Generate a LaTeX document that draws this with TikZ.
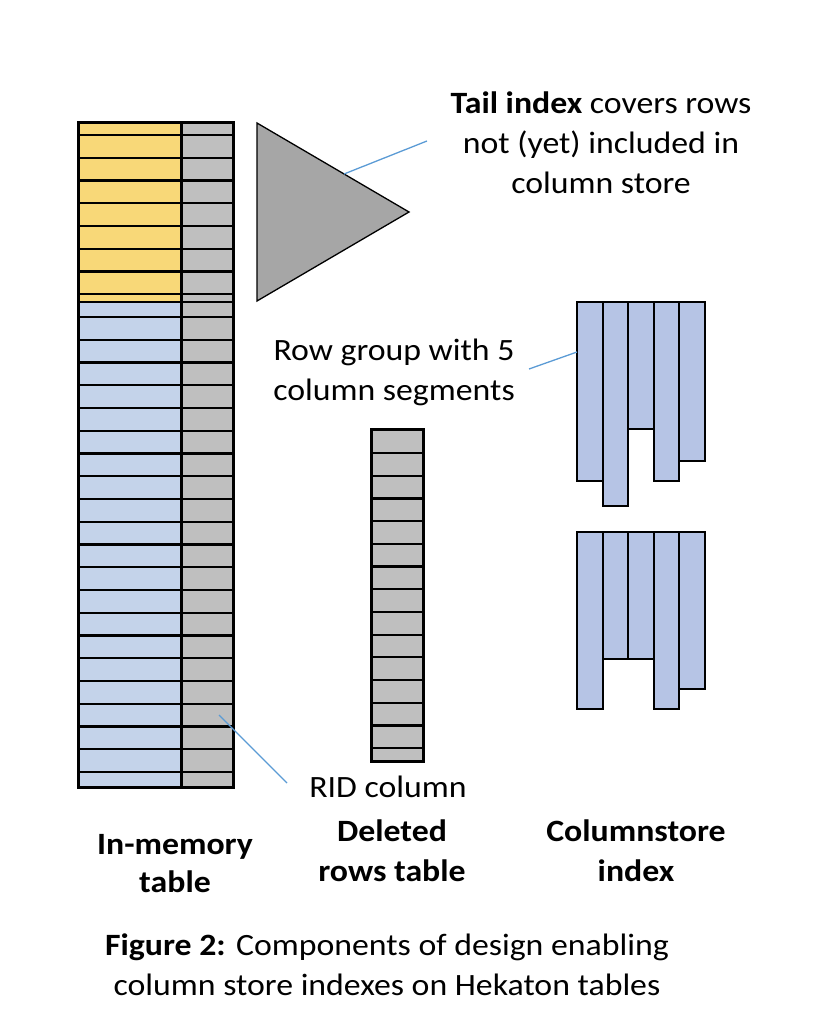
\documentclass[tikz,border=0pt]{standalone}
\usepackage{fontspec}
\setmainfont{Carlito}[FakeStretch=1.09]
\definecolor{yel}{HTML}{F8D878}
\definecolor{rowblue}{HTML}{C4D3EA}
\definecolor{segblue}{HTML}{B6C4E5}
\definecolor{ridgray}{HTML}{BFBFBF}
\definecolor{trigray}{HTML}{A6A6A6}
\definecolor{leadblue}{HTML}{5B9BD5}
\begin{document}
\begin{tikzpicture}[x=1pt,y=-1pt,
  lbl/.style={font=\fontsize{31}{40}\selectfont, align=center, inner sep=0pt},
  blbl/.style={lbl, font=\fontsize{31}{40}\selectfont\bfseries},
  rowline/.style={line width=2.2pt, black},
  frame/.style={line width=3pt, black},
  seg/.style={fill=segblue, draw=black, line width=2pt},
  leader/.style={draw=leadblue, line width=1.3pt}]
\useasboundingbox (0,0) rectangle (838,1022);

% In-memory table
\fill[yel] (78,123) rectangle (181,302);
\fill[rowblue] (78,302) rectangle (181,787);
\fill[ridgray] (181,123) rectangle (233,787);
\foreach \k [evaluate=\k as \yy using 135+22.75*\k] in {0,...,28}
  {\draw[rowline] (78,\yy) -- (233,\yy);}
\draw[line width=1.2pt] (78,302) -- (233,302);
\draw[frame] (181,123) -- (181,787);
\draw[frame] (78,123) rectangle (233,787);

% Deleted rows table
\fill[ridgray] (371,429) rectangle (423,761);
\foreach \k [evaluate=\k as \yy using 453+22.7*\k] in {0,...,13}
  {\draw[rowline] (371,\yy) -- (423,\yy);}
\draw[frame] (371,429) rectangle (423,761);

% Tail index triangle
\draw[fill=trigray, line width=1.3pt] (257,123) -- (409,212) -- (257,301) -- cycle;
\coordinate (tailpt) at (344,174);

% Columnstore index, row group 1
\draw[seg] (577,302) rectangle (603,481);
\draw[seg] (603,302) rectangle (628,506);
\draw[seg] (628,302) rectangle (654,429);
\draw[seg] (654,302) rectangle (679,481);
\draw[seg] (679,302) rectangle (705,461);
% row group 2
\draw[seg] (577,532) rectangle (603,709);
\draw[seg] (603,532) rectangle (628,659);
\draw[seg] (628,532) rectangle (654,659);
\draw[seg] (654,532) rectangle (679,709);
\draw[seg] (679,532) rectangle (705,689);
\coordinate (segpt) at (577,352);
\coordinate (ridpt) at (219,715);

% Labels
\node[lbl] (tail) at (601,143) {\textbf{Tail index} covers rows\\not (yet) included in\\column store};
\node[lbl] (rowgroup) at (394,372) {Row group with 5\\column segments};
\node[lbl] (rid) at (388,787) {RID column};
\node[blbl, font=\fontsize{31}{38}\selectfont\bfseries] (inmem) at (175,864) {In-memory\\table};
\node[blbl] (deleted) at (392,851) {Deleted\\rows table};
\node[blbl] (colstore) at (636,851) {Columnstore\\index};
\node[lbl] (caption) at (387,965) {\textbf{Figure 2:} Components of design enabling\\column store indexes on Hekaton tables};

% Leader lines
\coordinate (tailend) at (427,141);
\coordinate (rowgend) at (529,369);
\coordinate (ridend) at (287,783);
\draw[leader] (tailpt) -- (tailend);
\draw[leader] (rowgend) -- (segpt);
\draw[leader] (ridpt) -- (ridend);
\end{tikzpicture}
\end{document}
